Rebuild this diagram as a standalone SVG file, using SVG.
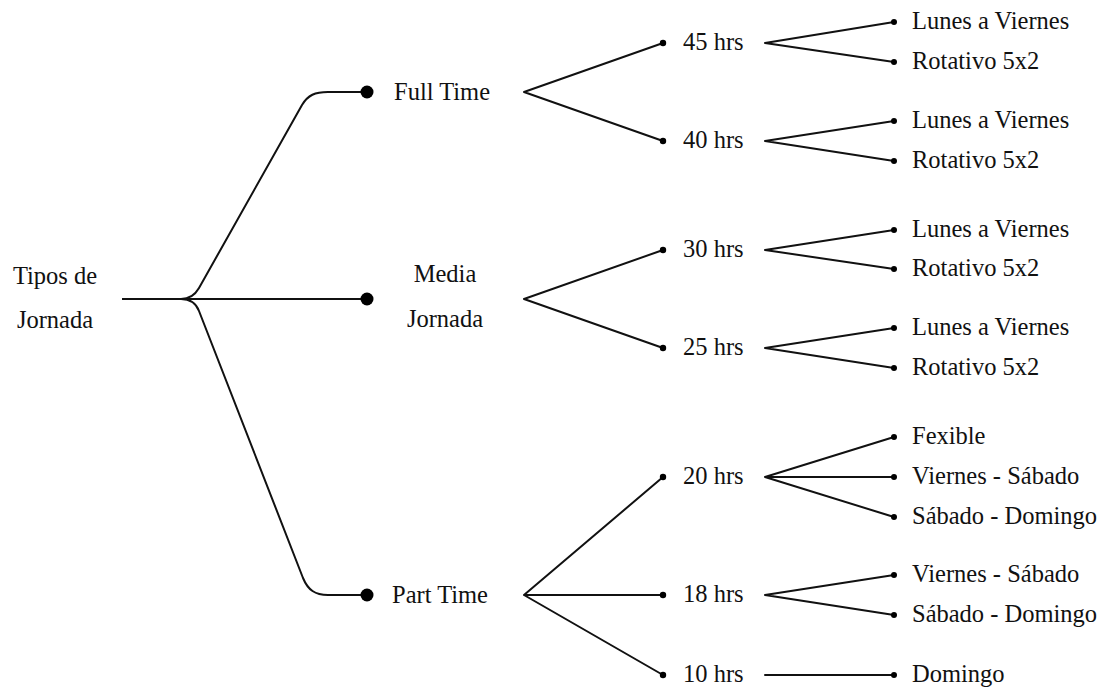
<svg xmlns="http://www.w3.org/2000/svg" width="1101" height="688" viewBox="0 0 1101 688">
<style>
text{font-family:"Liberation Serif","Times New Roman",serif;font-size:24.5px;fill:#111}
.c{text-anchor:middle}
.e{fill:none;stroke:#111;stroke-width:2;stroke-linecap:round;stroke-linejoin:round}
.big{fill:#000}
.sm{fill:#000}
</style>
<rect width="1101" height="688" fill="#fff"/>
<g id="connectors">
<path class="e" d="M123,299 L181,299 C190,299 195,295 199,288 L302,105 C308,95 315,92 328,92 L367,92"/>
<path class="e" d="M123,299 L367,299"/>
<path class="e" d="M123,299 L181,299 C190,299 196,303 199,311 L303,578 C308,590 315,595 328,595 L367,595"/>
<path class="e" d="M663,43 L524,92 L663,141"/>
<path class="e" d="M663,250 L524,299 L663,348"/>
<path class="e" d="M663,477 L524,595 L663,675 M524,595 L663,595"/>
<path class="e" d="M894,22 L765,43 L894,62"/>
<path class="e" d="M894,121 L765,141 L894,161"/>
<path class="e" d="M894,230 L765,250 L894,269"/>
<path class="e" d="M894,328 L765,348 L894,368"/>
<path class="e" d="M894,437 L765,477 L894,517 M765,477 L894,477"/>
<path class="e" d="M894,575 L765,595 L894,615"/>
<path class="e" d="M765,675 L894,675"/>
</g>
<g id="root"><text class="c" x="55" y="284">Tipos de</text><text class="c" x="55" y="328">Jornada</text></g>
<g id="fulltime"><circle class="big" cx="367" cy="92" r="6.5"/><text x="394" y="100">Full Time</text></g>
<g id="media"><circle class="big" cx="367" cy="299" r="6.5"/><text class="c" x="445" y="282">Media</text><text class="c" x="445" y="327">Jornada</text></g>
<g id="parttime"><circle class="big" cx="367" cy="595" r="6.5"/><text x="392" y="603">Part Time</text></g>
<g id="h45"><circle class="sm" cx="663" cy="43" r="3.2"/><text x="683" y="50">45 hrs</text></g>
<g id="h40"><circle class="sm" cx="663" cy="141" r="3.2"/><text x="683" y="148">40 hrs</text></g>
<g id="h30"><circle class="sm" cx="663" cy="250" r="3.2"/><text x="683" y="257">30 hrs</text></g>
<g id="h25"><circle class="sm" cx="663" cy="348" r="3.2"/><text x="683" y="355">25 hrs</text></g>
<g id="h20"><circle class="sm" cx="663" cy="477" r="3.2"/><text x="683" y="484">20 hrs</text></g>
<g id="h18"><circle class="sm" cx="663" cy="595" r="3.2"/><text x="683" y="602">18 hrs</text></g>
<g id="h10"><circle class="sm" cx="663" cy="675" r="3.2"/><text x="683" y="682">10 hrs</text></g>
<g id="l45a"><circle class="sm" cx="894" cy="22" r="3"/><text x="912" y="29">Lunes a Viernes</text></g>
<g id="l45b"><circle class="sm" cx="894" cy="62" r="3"/><text x="912" y="69">Rotativo 5x2</text></g>
<g id="l40a"><circle class="sm" cx="894" cy="121" r="3"/><text x="912" y="128">Lunes a Viernes</text></g>
<g id="l40b"><circle class="sm" cx="894" cy="161" r="3"/><text x="912" y="168">Rotativo 5x2</text></g>
<g id="l30a"><circle class="sm" cx="894" cy="230" r="3"/><text x="912" y="237">Lunes a Viernes</text></g>
<g id="l30b"><circle class="sm" cx="894" cy="269" r="3"/><text x="912" y="276">Rotativo 5x2</text></g>
<g id="l25a"><circle class="sm" cx="894" cy="328" r="3"/><text x="912" y="335">Lunes a Viernes</text></g>
<g id="l25b"><circle class="sm" cx="894" cy="368" r="3"/><text x="912" y="375">Rotativo 5x2</text></g>
<g id="l20a"><circle class="sm" cx="894" cy="437" r="3"/><text x="912" y="444">Fexible</text></g>
<g id="l20b"><circle class="sm" cx="894" cy="477" r="3"/><text x="912" y="484">Viernes - Sábado</text></g>
<g id="l20c"><circle class="sm" cx="894" cy="517" r="3"/><text x="912" y="524">Sábado - Domingo</text></g>
<g id="l18a"><circle class="sm" cx="894" cy="575" r="3"/><text x="912" y="582">Viernes - Sábado</text></g>
<g id="l18b"><circle class="sm" cx="894" cy="615" r="3"/><text x="912" y="622">Sábado - Domingo</text></g>
<g id="l10a"><circle class="sm" cx="894" cy="675" r="3"/><text x="912" y="682">Domingo</text></g>
</svg>
